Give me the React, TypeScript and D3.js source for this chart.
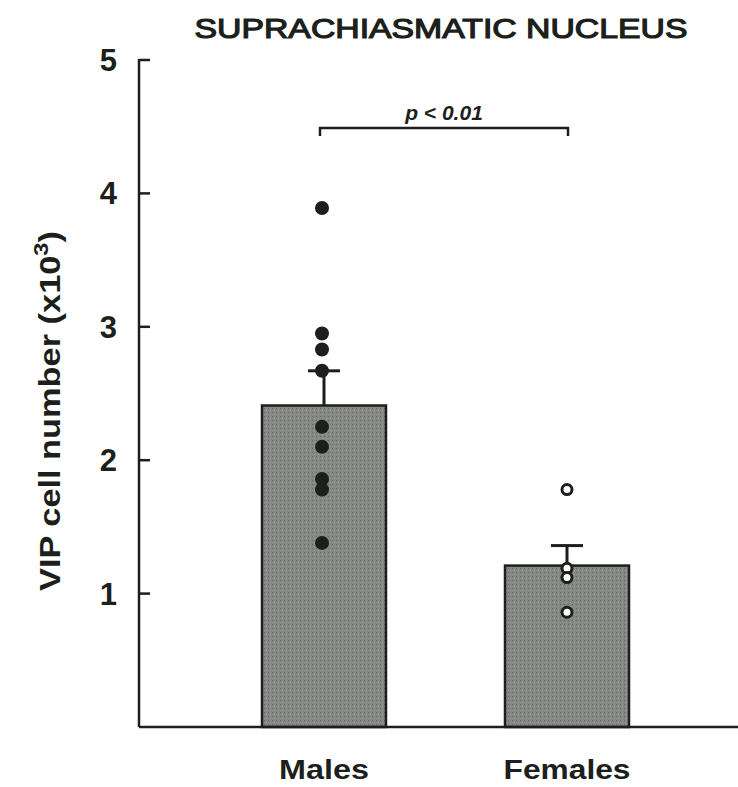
import React from "react";
import * as d3 from "d3";

const categories = ["Males", "Females"];
const means = [2.41, 1.21];
const semTop = [2.67, 1.36];
const malePoints = [3.89, 2.95, 2.83, 2.67, 2.25, 2.1, 1.86, 1.78, 1.38];
const femalePoints = [1.78, 1.19, 1.12, 0.86];
const yTicks = [1, 2, 3, 4, 5];

const W = 738;
const H = 787;
const ink = "#1c1f1c";

export default function App() {
  const y = d3.scaleLinear().domain([0, 5]).range([727, 60]);
  const x = d3.scalePoint<string>().domain(categories).range([324, 567]);
  const barW = 124;
  const axisX = 139;
  const font = "'Liberation Sans', Arial, sans-serif";

  return (
    <svg width={W} height={H} style={{ position: "absolute", left: 0, top: 0, background: "#fff" }} fontFamily={font}>
      <defs>
        <pattern id="tex" width="4" height="4" patternUnits="userSpaceOnUse">
          <rect width="4" height="4" fill="#858885" />
          <rect x="0" y="0" width="1" height="1" fill="#656865" />
          <rect x="2" y="2" width="1" height="1" fill="#9d9f9d" />
        </pattern>
      </defs>
      <rect width={W} height={H} fill="#fff" />
      <text x={441} y={38} textAnchor="middle" fontSize={28} fill={ink} stroke={ink} strokeWidth={1.2}
        textLength={493} lengthAdjust="spacingAndGlyphs">
        SUPRACHIASMATIC NUCLEUS
      </text>

      {/* bars */}
      {categories.map((c, i) => (
        <rect key={c} x={x(c)! - barW / 2} y={y(means[i])} width={barW} height={y(0) - y(means[i])}
          fill="url(#tex)" stroke={ink} strokeWidth={2.5} />
      ))}
      {/* error bars */}
      {categories.map((c, i) => (
        <g key={c + "e"} stroke={ink} strokeWidth={3}>
          <line x1={x(c)} x2={x(c)} y1={y(means[i])} y2={y(semTop[i])} />
          <line x1={x(c)! - 16} x2={x(c)! + 16} y1={y(semTop[i])} y2={y(semTop[i])} />
        </g>
      ))}
      {/* points */}
      {malePoints.map((v, j) => (
        <circle key={"m" + j} cx={x("Males")! - 2} cy={y(v)} r={7} fill={ink} />
      ))}
      {femalePoints.map((v, j) => (
        <circle key={"f" + j} cx={x("Females")!} cy={y(v)} r={5} fill="#fff" stroke={ink} strokeWidth={3} />
      ))}

      {/* axes */}
      <line x1={axisX} x2={axisX} y1={y(5) - 1} y2={y(0)} stroke={ink} strokeWidth={2.5} />
      <line x1={axisX} x2={W} y1={y(0)} y2={y(0)} stroke={ink} strokeWidth={2.5} />
      {yTicks.map((t) => (
        <g key={t}>
          <line x1={axisX} x2={axisX + 11} y1={y(t)} y2={y(t)} stroke={ink} strokeWidth={2.5} />
          <text x={117} y={y(t) + 11} textAnchor="end" fontSize={31} fontWeight="bold" fill={ink}>{t}</text>
        </g>
      ))}
      <text transform={`translate(60, ${411}) rotate(-90)`} textAnchor="middle" fontSize={29} fontWeight="bold" fill={ink}
        textLength={360} lengthAdjust="spacingAndGlyphs">
        VIP cell number (x10<tspan dy={-12} fontSize={20}>3</tspan><tspan dy={12}>)</tspan>
      </text>
      {categories.map((c) => (
        <text key={c + "l"} x={x(c)} y={779} textAnchor="middle" fontSize={28} fontWeight="bold" fill={ink}
          textLength={c === "Males" ? 90 : 127} lengthAdjust="spacingAndGlyphs">{c}</text>
      ))}

      {/* significance bracket */}
      <path d={`M${x("Males")! - 4},${136} V${128} H${x("Females")! + 1} V${136}`} fill="none" stroke={ink} strokeWidth={2.5} />
      <text x={444} y={120} textAnchor="middle" fontSize={21} fontWeight="bold" fontStyle="italic" fill={ink}>p &lt; 0.01</text>
    </svg>
  );
}
